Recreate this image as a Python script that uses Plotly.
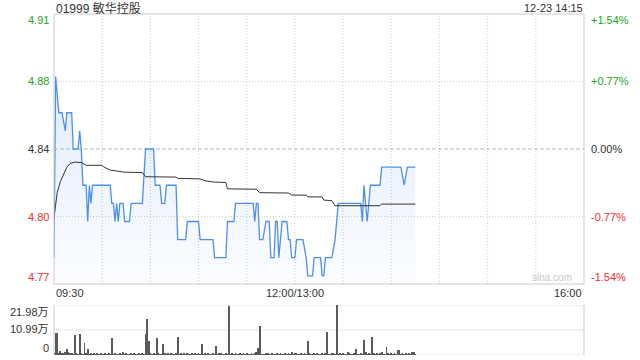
import plotly.graph_objects as go

# ---- data (minutes since 09:30, lunch break removed; 150 = 12:00/13:00, 330 = 16:00) ----
price_t = [0, 1, 3, 5, 7, 8, 11, 12, 15, 16, 17, 18, 20, 21, 22, 23, 24, 35, 36, 37, 38, 39, 40, 41,
           43, 44, 47, 48, 55, 57, 62, 63, 66, 67, 69, 70, 76, 77, 82, 83, 90, 91, 99, 100, 107, 108,
           112, 113, 124, 125, 126, 127, 128, 130, 132, 134, 135, 137, 138, 139, 140, 142, 145, 146,
           147, 148, 150, 151, 155, 157, 158, 161, 162, 166, 167, 168, 169, 173, 175, 177, 191, 192,
           193, 195, 197, 203, 204, 216, 218, 220, 225]
price_v = [4.78, 4.88, 4.86, 4.86, 4.85, 4.86, 4.86, 4.84, 4.84, 4.85, 4.84, 4.82, 4.82, 4.80, 4.82,
           4.81, 4.82, 4.82, 4.81, 4.81, 4.80, 4.81, 4.80, 4.81, 4.81, 4.80, 4.80, 4.81, 4.81, 4.84,
           4.84, 4.82, 4.82, 4.81, 4.81, 4.82, 4.82, 4.79, 4.79, 4.80, 4.80, 4.79, 4.79, 4.78, 4.78,
           4.80, 4.80, 4.81, 4.81, 4.80, 4.81, 4.81, 4.79, 4.79, 4.80, 4.80, 4.78, 4.78, 4.80, 4.80,
           4.78, 4.80, 4.80, 4.79, 4.79, 4.78, 4.78, 4.79, 4.79, 4.78, 4.77, 4.77, 4.78, 4.78, 4.77,
           4.77, 4.78, 4.78, 4.79, 4.81, 4.81, 4.80, 4.82, 4.80, 4.82, 4.82, 4.83, 4.83, 4.82, 4.83,
           4.83]

avg_t = [0, 2, 4, 6, 8, 10, 13, 17, 20, 30, 31, 35, 44, 55, 57, 76, 77, 91, 94, 99, 107, 108, 126,
         128, 146, 148, 157, 158, 167, 168, 173, 175, 203, 204, 225]
avg_v = [4.802, 4.816, 4.822, 4.826, 4.830, 4.832, 4.8328, 4.8325, 4.831, 4.831, 4.830, 4.8284,
         4.8272, 4.8270, 4.8247, 4.8245, 4.8238, 4.8235, 4.8225, 4.8218, 4.8215, 4.818, 4.8178,
         4.8159, 4.8157, 4.8146, 4.8145, 4.8136, 4.8135, 4.8118, 4.8115, 4.8087, 4.8087, 4.8096,
         4.8096]

# volume per minute, in 万
volume = [
    0.5, 9.5, 9.6, 0.6, 1.8, 1.0, 0.5, 1.2, 2.6, 1.2,
    0.6, 1.0, 0.4, 8.8, 0.7, 0.4, 9.2, 0.5, 0.4, 5.4,
    0.5, 2.6, 0.4, 0.6, 0.3, 0.5, 0.4, 0.7, 0.3, 0.5,
    0.4, 0.3, 0.6, 0.4, 0.5, 0.3, 7.6, 0.4, 0.5, 0.3,
    0.4, 0.6, 0.3, 1.5, 0.4, 0.5, 0.3, 0.4, 0.6, 0.3,
    0.5, 0.4, 0.3, 0.5, 0.4, 0.6, 0.3, 9.3, 15.8, 6.3,
    0.5, 0.4, 0.6, 0.4, 7.6, 0.5, 0.3, 0.4, 4.8, 0.5,
    0.4, 0.6, 0.3, 0.5, 0.4, 0.3, 0.5, 8.1, 0.4, 0.6,
    0.3, 0.5, 0.4, 0.6, 0.3, 0.4, 0.5, 0.3, 0.6, 0.4,
    0.5, 0.3, 4.8, 0.4, 0.6, 0.3, 0.5, 0.4, 0.3, 0.5,
    0.4, 4.1, 0.3, 0.5, 0.6, 0.4, 0.3, 0.5, 0.4, 21.7,
    0.3, 0.5, 0.4, 0.6, 0.3, 0.4, 0.5, 0.3, 0.6, 0.4,
    0.5, 0.3, 0.4, 0.6, 0.3, 0.5, 1.5, 2.9, 12.7, 0.4,
    0.4, 0.3, 0.5, 0.6, 0.3, 0.4, 0.5, 0.3, 0.4, 0.6,
    0.3, 0.5, 0.4, 0.3, 0.6, 0.4, 0.5, 0.3, 1.5, 0.4,
    0.5, 1.0, 0.3, 0.4, 0.6, 0.3, 1.0, 0.4, 6.2, 0.5,
    0.3, 0.4, 0.6, 0.3, 0.5, 0.4, 0.3, 0.6, 0.4, 0.5,
    10.3, 0.4, 0.3, 0.5, 0.6, 0.4, 22.0, 0.3, 0.5, 0.4,
    0.6, 0.3, 0.4, 1.5, 0.5, 0.3, 0.4, 0.6, 2.6, 0.4,
    0.3, 0.5, 0.4, 6.6, 1.5, 0.4, 1.0, 0.3, 8.1, 0.5,
    0.4, 0.6, 0.3, 0.5, 1.5, 0.4, 0.3, 3.7, 0.5, 0.4,
    0.6, 0.3, 0.5, 0.4, 2.3, 2.3, 0.4, 0.5, 0.3, 0.6,
    0.4, 0.5, 0.3, 1.2, 1.5, 0.4,
]
vol_t = list(range(len(volume)))

prev_close = 4.84
price_ticks = [4.9145, 4.8773, 4.84, 4.8027, 4.7655]
price_labels = ["4.91", "4.88", "4.84", "4.80", "4.77"]
pct_labels = ["+1.54%", "+0.77%", "0.00%", "-0.77%", "-1.54%"]
vol_ticks = [21.98, 10.99, 0]
vol_labels = ["21.98万", "10.99万", "0"]
time_ticks = [0, 150, 330]
time_labels = ["09:30", "12:00/13:00", "16:00"]
grid_times = [30, 60, 90, 120, 150, 180, 210, 240, 270, 300]
title = "01999 敏华控股"
stamp = "12-23 14:15"

W, H = 640, 360
L, R = 54, 584
MT, MB = 14, 284
VT, VB = 305, 355
FONT = "Liberation Sans, Arial, Noto Sans CJK SC, sans-serif"
GREEN, RED, DARK = "#22a322", "#ee3030", "#333333"
GRID = "#cccccc"

fig = go.Figure()
fig.add_trace(go.Scatter(
    x=price_t, y=price_v, mode="lines",
    line=dict(color="#4d8ff0", width=1.3),
    fill="tozeroy",
    fillgradient=dict(type="vertical",
                      colorscale=[[0, "rgba(77,143,240,0.02)"], [1, "rgba(77,143,240,0.17)"]],
                      start=price_ticks[-1], stop=4.88),
    hoverinfo="skip", showlegend=False))
fig.add_trace(go.Scatter(
    x=avg_t, y=avg_v, mode="lines",
    line=dict(color="#333333", width=1),
    hoverinfo="skip", showlegend=False))
fig.add_trace(go.Bar(
    x=vol_t, y=volume, xaxis="x2", yaxis="y2",
    marker=dict(color="#5a5a5a", line=dict(width=0)),
    width=0.55, hoverinfo="skip", showlegend=False))

dom_x = [L / W, R / W]
fig.update_layout(
    width=W, height=H, margin=dict(l=0, r=0, t=0, b=0),
    paper_bgcolor="white", plot_bgcolor="white",
    font=dict(family=FONT, size=11, color=DARK),
    xaxis=dict(domain=dom_x, range=[0, 330], showgrid=False, zeroline=False,
               showticklabels=False, fixedrange=True),
    yaxis=dict(domain=[(H - MB) / H, (H - MT) / H], range=[price_ticks[-1], price_ticks[0]],
               showgrid=False, zeroline=False, showticklabels=False),
    xaxis2=dict(domain=dom_x, range=[0, 330], anchor="y2", showgrid=False, zeroline=False,
                showticklabels=False),
    yaxis2=dict(domain=[(H - VB) / H, (H - VT) / H], range=[0, vol_ticks[0]], anchor="x2",
                showgrid=False, zeroline=False, showticklabels=False),
    bargap=0,
)

shapes = []
# vertical dotted grid in main panel
for t in grid_times:
    shapes.append(dict(type="line", xref="x", yref="paper", x0=t, x1=t,
                       y0=(H - MB) / H, y1=(H - MT) / H,
                       line=dict(color=GRID, width=1, dash="1px,2px"), layer="below"))
# horizontal grid in main panel
for v in price_ticks[1:4]:
    dash = "4px,2px" if v == prev_close else "1px,2px"
    col = "#bbbbbb" if v == prev_close else GRID
    shapes.append(dict(type="line", xref="paper", yref="y", x0=L / W, x1=R / W, y0=v, y1=v,
                       line=dict(color=col, width=1, dash=dash), layer="below"))
# main frame
shapes.append(dict(type="rect", xref="paper", yref="paper", x0=L / W, x1=R / W,
                   y0=(H - MB) / H, y1=(H - MT) / H, line=dict(color="#cccccc", width=1)))
# volume grid
for v in vol_ticks:
    shapes.append(dict(type="line", xref="paper", yref="y2", x0=L / W, x1=R / W, y0=v, y1=v,
                       line=dict(color=GRID, width=1, dash="1px,1px"), layer="below"))
for xp in (L, R):
    shapes.append(dict(type="line", xref="paper", yref="paper", x0=xp / W, x1=xp / W,
                       y0=(H - VB) / H, y1=(H - VT) / H, line=dict(color="#cccccc", width=1)))
fig.update_layout(shapes=shapes)

ann = []
colors = [GREEN, GREEN, DARK, RED, RED]
shifts = [-6, 0, 0, 0, 7]
for v, t, p, c, s in zip(price_ticks, price_labels, pct_labels, colors, shifts):
    ann.append(dict(x=(L - 3) / W, xref="paper", y=v, yref="y", text=t, showarrow=False,
                    xanchor="right", yanchor="middle", yshift=s, font=dict(color=c, size=11)))
    ann.append(dict(x=(R + 5) / W, xref="paper", y=v, yref="y", text=p, showarrow=False,
                    xanchor="left", yanchor="middle", yshift=s, font=dict(color=c, size=11)))
for v, t, s in zip(vol_ticks, vol_labels, [-7, 1, 7]):
    ann.append(dict(x=(L - 3) / W, xref="paper", y=v, yref="y2", text=t, showarrow=False,
                    xanchor="right", yanchor="middle", yshift=s, font=dict(color=DARK, size=11)))
for t, lab, anc in zip(time_ticks, time_labels, ["left", "center", "right"]):
    ann.append(dict(x=t, xref="x", y=(H - 293) / H, yref="paper", text=lab, showarrow=False,
                    xanchor=anc, yanchor="middle", font=dict(color=DARK, size=11)))
ann.append(dict(x=L / W, xref="paper", y=(H - 8) / H, yref="paper", text=title, showarrow=False,
                xanchor="left", yanchor="middle", font=dict(color=DARK, size=12)))
ann.append(dict(x=(R + 1) / W, xref="paper", y=(H - 8) / H, yref="paper", text=stamp,
                showarrow=False, xanchor="right", yanchor="middle", font=dict(color=DARK, size=11)))
ann.append(dict(x=(R - 10) / W, xref="paper", y=(H - 277) / H, yref="paper", text="sina.com",
                showarrow=False, xanchor="right", yanchor="middle",
                font=dict(color="#c8c8c8", size=10)))
fig.update_layout(annotations=ann)

fig.write_html("out.html")
